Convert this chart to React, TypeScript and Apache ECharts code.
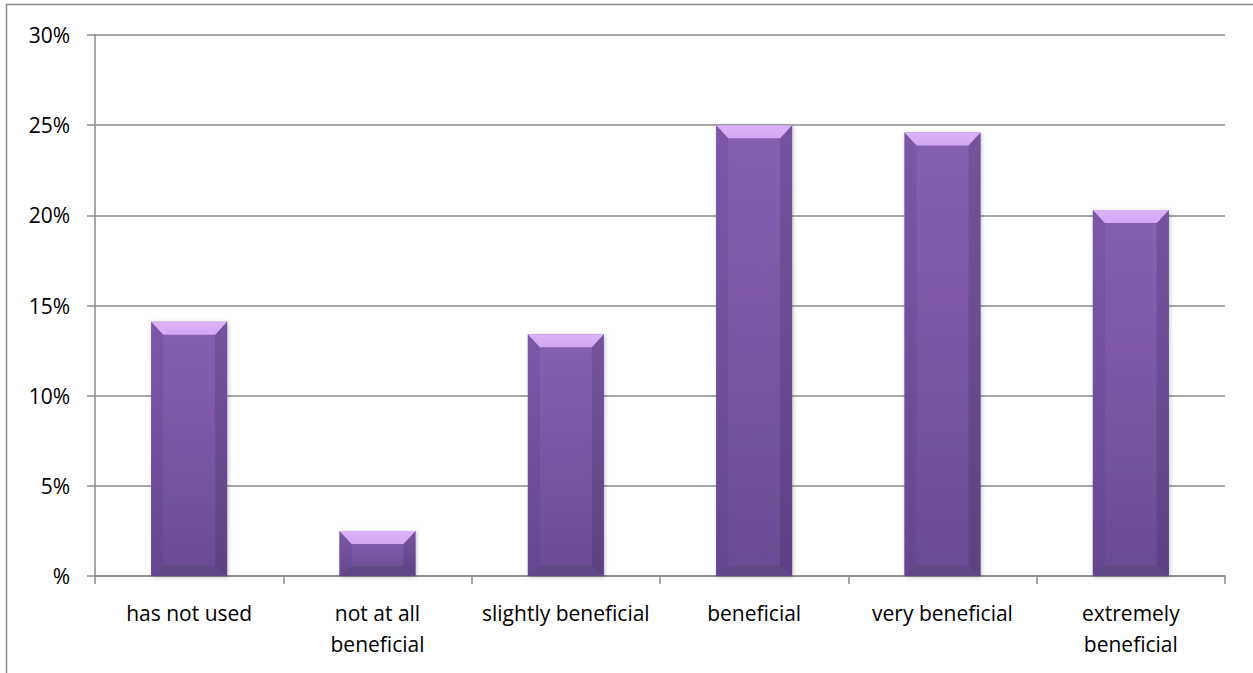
import React, { useEffect, useRef } from "react";
import * as echarts from "echarts";

const categories = [
  "has not used",
  "not at all\nbeneficial",
  "slightly beneficial",
  "beneficial",
  "very beneficial",
  "extremely\nbeneficial",
];
const values = [14.1, 2.5, 13.4, 25.0, 24.6, 20.3];
const yTicks = [0, 5, 10, 15, 20, 25, 30];

const FONT = "'Open Sans', sans-serif";
const GRID_COLOR = "#8a8a8a";

export default function App() {
  const ref = useRef<HTMLDivElement>(null);
  useEffect(() => {
    if (!ref.current) return;
    const chart = echarts.init(ref.current, undefined, { renderer: "svg" });
    const renderItem = (params: any, api: any) => {
      const idx = api.value(0);
      const val = api.value(1);
      const top = api.coord([idx, val]);
      const base = api.coord([idx, 0]);
      const band = api.size([1, 0])[0];
      const w = band * 0.403;
      const x0 = top[0] - w / 2;
      const x1 = top[0] + w / 2;
      const y0 = top[1];
      const y1 = base[1];
      const h = y1 - y0;
      const b = Math.min(12, w / 2);
      const bt = Math.min(13, h / 2);
      const bb = Math.min(10, h / 2);
      return {
        type: "group",
        children: [
          {
            type: "rect",
            shape: { x: x0, y: y0, width: w, height: h },
            style: {
              fill: new echarts.graphic.LinearGradient(0, 0, 0, 1, [
                { offset: 0, color: "#8561b2" },
                { offset: 1, color: "#6a4b94" },
              ]),
              shadowBlur: 4,
              shadowColor: "rgba(0,0,0,0.25)",
              shadowOffsetX: 1,
              shadowOffsetY: 1,
            },
          },
          {
            type: "polygon",
            shape: { points: [[x0, y0], [x0 + b, y0 + bt], [x0 + b, y1 - bb], [x0, y1]] },
            style: {
              fill: new echarts.graphic.LinearGradient(0, 0, 0, 1, [
                { offset: 0, color: "#7a58a6" },
                { offset: 1, color: "#654790" },
              ]),
            },
          },
          {
            type: "polygon",
            shape: { points: [[x1, y0], [x1 - b, y0 + bt], [x1 - b, y1 - bb], [x1, y1]] },
            style: {
              fill: new echarts.graphic.LinearGradient(0, 0, 0, 1, [
                { offset: 0, color: "#74549d" },
                { offset: 1, color: "#5c4283" },
              ]),
            },
          },
          {
            type: "polygon",
            shape: { points: [[x0, y1], [x0 + b, y1 - bb], [x1 - b, y1 - bb], [x1, y1]] },
            style: { fill: "#5f4886" },
          },
          {
            type: "polygon",
            shape: { points: [[x0, y0], [x1, y0], [x1 - b, y0 + bt], [x0 + b, y0 + bt]] },
            style: {
              fill: new echarts.graphic.LinearGradient(0, 0, 0, 1, [
                { offset: 0, color: "#dcb4fa" },
                { offset: 1, color: "#d2a6f3" },
              ]),
            },
          },
        ],
      };
    };
    chart.setOption({
      animation: false,
      backgroundColor: "#ffffff",
      graphic: [
        {
          type: "rect",
          shape: { x: 6.5, y: 4.5, width: 1400, height: 800 },
          style: { fill: "none", stroke: GRID_COLOR, lineWidth: 1.5 },
          silent: true,
        },
      ],
      grid: { left: 95, right: 28, top: 35, bottom: 97, containLabel: false },
      xAxis: {
        type: "category",
        data: categories,
        axisLine: { show: true, lineStyle: { color: GRID_COLOR, width: 1.5 } },
        axisTick: { show: true, length: 8, lineStyle: { color: GRID_COLOR, width: 1.5 } },
        axisLabel: {
          color: "#000",
          fontFamily: FONT,
          fontSize: 21,
          lineHeight: 31,
          margin: 21,
          interval: 0,
        },
      },
      yAxis: {
        type: "value",
        min: yTicks[0],
        max: yTicks[yTicks.length - 1],
        interval: 5,
        axisLine: { show: true, lineStyle: { color: GRID_COLOR, width: 1.5 } },
        axisTick: { show: true, length: 8, lineStyle: { color: GRID_COLOR, width: 1.5 } },
        splitLine: { show: true, lineStyle: { color: GRID_COLOR, width: 1.5 } },
        axisLabel: {
          color: "#000",
          fontFamily: FONT,
          fontSize: 21,
          margin: 25,
          formatter: (v: number) => (v === 0 ? "%" : v + "%"),
        },
      },
      series: [
        {
          type: "custom",
          renderItem,
          encode: { x: 0, y: 1 },
          data: values.map((v, i) => [i, v]),
        },
      ],
    });
    return () => chart.dispose();
  }, []);
  return (
    <div
      ref={ref}
      style={{ position: "absolute", left: 0, top: 0, width: 1253, height: 673 }}
    />
  );
}
